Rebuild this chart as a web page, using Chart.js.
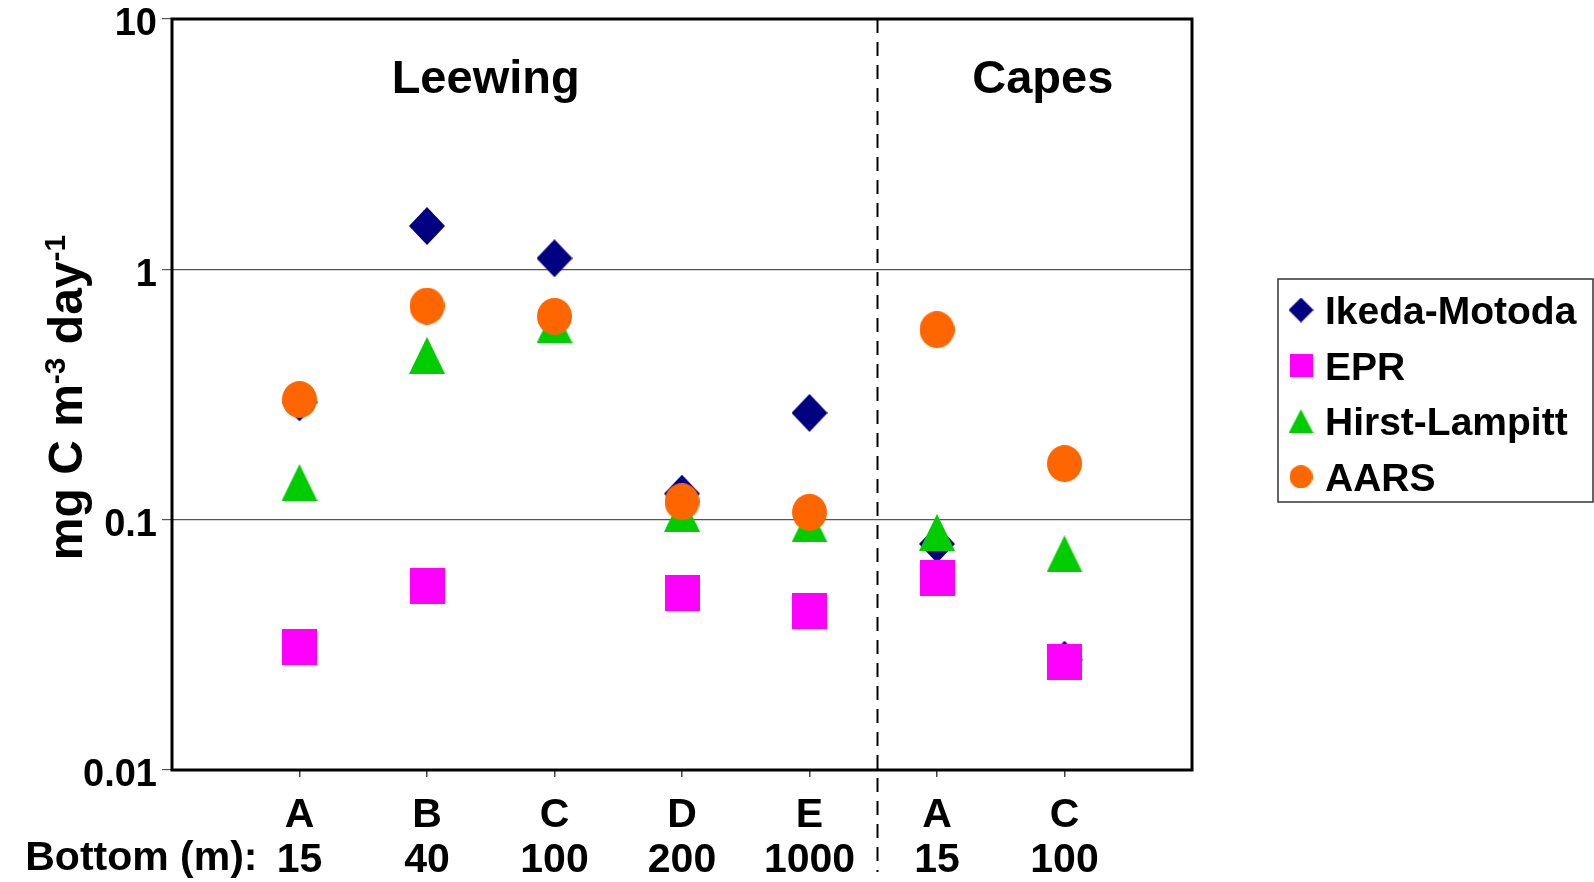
<!DOCTYPE html>
<html>
<head>
<meta charset="utf-8">
<script src="https://cdn.jsdelivr.net/npm/chart.js@4.4.1/dist/chart.umd.min.js"></script>
<style>
  html, body { margin: 0; padding: 0; background: #ffffff; }
  #wrap { width: 1594px; height: 882px; position: relative; }
</style>
</head>
<body>
<div id="wrap"><canvas id="chart"></canvas></div>
<script>
// Stations along the x axis and their bottom depth (m)
const stations = ['A', 'B', 'C', 'D', 'E', 'A', 'C'];
const bottomDepths = ['15', '40', '100', '200', '1000', '15', '100'];

// Rates, mg C m-3 day-1 (null = not measured)
const ikedaMotoda  = [0.294, 1.49, 1.107, 0.127, 0.267, 0.080, 0.0276];
const epr          = [0.0309, 0.0542, null, 0.0511, 0.0433, 0.0587, 0.0269];
const hirstLampitt = [0.1406, 0.453, 0.600, 0.106, 0.0962, 0.0889, 0.073];
const aars         = [0.302, 0.713, 0.649, 0.118, 0.107, 0.574, 0.1675];

// Log axis decades and their labels
const yTicks = [0.01, 0.1, 1, 10];
const yTickLabels = ['0.01', '0.1', '1', '10'];

// Region headings and the boundary between them (x-axis units)
const regionNames = ['Leewing', 'Capes'];
const regionCentres = [2.46, 6.83];
const regionDivider = 5.53;

const FONT = "'Liberation Sans', Arial, Helvetica, sans-serif";

function makeMarker(shape, w, h, color) {
  const c = document.createElement('canvas');
  c.width = w; c.height = h;
  const g = c.getContext('2d');
  g.fillStyle = color;
  g.beginPath();
  if (shape === 'diamond') {
    g.moveTo(w / 2, 0); g.lineTo(w, h / 2); g.lineTo(w / 2, h); g.lineTo(0, h / 2);
  } else if (shape === 'square') {
    g.rect(0, 0, w, h);
  } else if (shape === 'triangle') {
    g.moveTo(w / 2, 0); g.lineTo(w, h); g.lineTo(0, h);
  } else {
    g.ellipse(w / 2, h / 2, w / 2, h / 2, 0, 0, Math.PI * 2);
  }
  g.closePath();
  g.fill();
  return c;
}

const seriesDefs = [
  { label: 'Ikeda-Motoda', values: ikedaMotoda, shape: 'diamond', color: '#000080', size: [36, 38], legendSize: [25, 25], order: 3 },
  { label: 'EPR', values: epr, shape: 'square', color: '#FF00FF', size: [35, 36], legendSize: [23, 23], order: 2 },
  { label: 'Hirst-Lampitt', values: hirstLampitt, shape: 'triangle', color: '#00CC00', size: [36, 37], legendSize: [25, 24], order: 1 },
  { label: 'AARS', values: aars, shape: 'circle', color: '#FF6600', size: [35, 37], legendSize: [23, 23], order: 0 }
];

const datasets = seriesDefs.map(s => ({
  label: s.label,
  data: s.values.map((v, i) => (v === null ? null : { x: i + 1, y: v })).filter(p => p !== null),
  pointStyle: makeMarker(s.shape, s.size[0], s.size[1], s.color),
  legendMarker: makeMarker(s.shape, s.legendSize[0], s.legendSize[1], s.color),
  pointRadius: 18,
  pointHoverRadius: 18,
  backgroundColor: s.color,
  borderColor: s.color,
  order: s.order,
  showLine: false
}));

// Frame, divider, headings, axis title and legend
const decorations = {
  id: 'decorations',
  afterDatasetsDraw(chart) {
    const { ctx, chartArea: a, scales } = chart;
    const xs = scales.x;

    // dashed divider between regions
    const dx = Math.round(xs.getPixelForValue(regionDivider)) + 0.5;
    ctx.save();
    ctx.strokeStyle = '#000';
    ctx.lineWidth = 2;
    ctx.setLineDash([14, 9]);
    ctx.beginPath();
    ctx.moveTo(dx, a.top);
    ctx.lineTo(dx, 872);
    ctx.stroke();
    ctx.restore();

    // plot frame
    ctx.save();
    ctx.strokeStyle = '#000';
    ctx.lineWidth = 3;
    ctx.strokeRect(a.left, a.top, a.right - a.left, a.bottom - a.top);
    ctx.restore();

    // region headings
    ctx.save();
    ctx.fillStyle = '#000';
    ctx.font = 'bold 47px ' + FONT;
    ctx.textAlign = 'center';
    ctx.textBaseline = 'alphabetic';
    regionNames.forEach((name, i) => {
      ctx.fillText(name, xs.getPixelForValue(regionCentres[i]), a.top + 74);
    });
    ctx.restore();

    // y-axis title with superscripts
    const parts = [
      { t: 'mg C m', sup: false },
      { t: '-3', sup: true },
      { t: ' day', sup: false },
      { t: '-1', sup: true }
    ];
    const mainFont = 'bold 48px ' + FONT;
    const supFont = 'bold 30px ' + FONT;
    ctx.save();
    ctx.fillStyle = '#000';
    let total = 0;
    parts.forEach(p => { ctx.font = p.sup ? supFont : mainFont; p.w = ctx.measureText(p.t).width; total += p.w; });
    ctx.translate(82, (a.top + a.bottom) / 2 + 3);
    ctx.rotate(-Math.PI / 2);
    ctx.textAlign = 'left';
    ctx.textBaseline = 'alphabetic';
    let cx = -total / 2;
    parts.forEach(p => {
      ctx.font = p.sup ? supFont : mainFont;
      ctx.fillText(p.t, cx, p.sup ? -17 : 0);
      cx += p.w;
    });
    ctx.restore();

    // prefix for the depth row of the x labels
    ctx.save();
    ctx.fillStyle = '#000';
    ctx.font = 'bold 41px ' + FONT;
    ctx.textAlign = 'right';
    ctx.textBaseline = 'middle';
    ctx.fillText('Bottom (m):', xs.getPixelForValue(1) - 42, 859);
    ctx.restore();

    // legend
    const lx = 1278, ly = 279, lw = 315, lh = 223;
    ctx.save();
    ctx.strokeStyle = '#333';
    ctx.lineWidth = 1.5;
    ctx.strokeRect(lx, ly, lw, lh);
    ctx.fillStyle = '#000';
    ctx.font = 'bold 39px ' + FONT;
    ctx.textAlign = 'left';
    ctx.textBaseline = 'alphabetic';
    chart.data.datasets.forEach((ds, i) => {
      const rowY = 310 + i * 55.6;
      const m = ds.legendMarker;
      ctx.drawImage(m, 1301 - m.width / 2, rowY - m.height / 2);
      ctx.fillText(ds.label, 1325, rowY + 14);
    });
    ctx.restore();
  }
};

new Chart(document.getElementById('chart'), {
  type: 'scatter',
  data: { datasets },
  options: {
    responsive: true,
    maintainAspectRatio: false,
    animation: false,
    layout: { padding: { left: 0, top: 18, right: 402, bottom: 0 } },
    plugins: {
      legend: { display: false },
      tooltip: { enabled: false }
    },
    scales: {
      x: {
        type: 'linear',
        min: 0,
        max: 8,
        afterBuildTicks(scale) { scale.ticks = stations.map((_, i) => ({ value: i + 1 })); },
        afterFit(scale) {
          scale.height = 112;
          scale.paddingLeft = 0; scale.paddingRight = 0;
        },
        border: { display: false },
        grid: { drawOnChartArea: false, drawTicks: true, tickLength: 7, color: '#444', lineWidth: 1.5 },
        ticks: {
          autoSkip: false,
          maxRotation: 0,
          padding: 16.5,
          color: '#000',
          font: { family: FONT, size: 41, weight: 'bold', lineHeight: '45px' },
          callback(value, index) { return [stations[index], bottomDepths[index]]; }
        }
      },
      y: {
        type: 'logarithmic',
        min: 0.01,
        max: 10,
        afterBuildTicks(scale) { scale.ticks = yTicks.map(v => ({ value: v })); },
        afterFit(scale) {
          scale.width = 172;
          scale.paddingTop = 0; scale.paddingBottom = 0;
        },
        border: { display: false },
        grid: { drawOnChartArea: true, drawTicks: true, tickLength: 10, color: '#555', lineWidth: 1.2 },
        ticks: {
          padding: 5,
          labelOffset: 6,
          color: '#000',
          font: { family: FONT, size: 38, weight: 'bold' },
          callback(value, index) { return yTickLabels[index]; }
        }
      }
    }
  },
  plugins: [decorations]
});
</script>
</body>
</html>
